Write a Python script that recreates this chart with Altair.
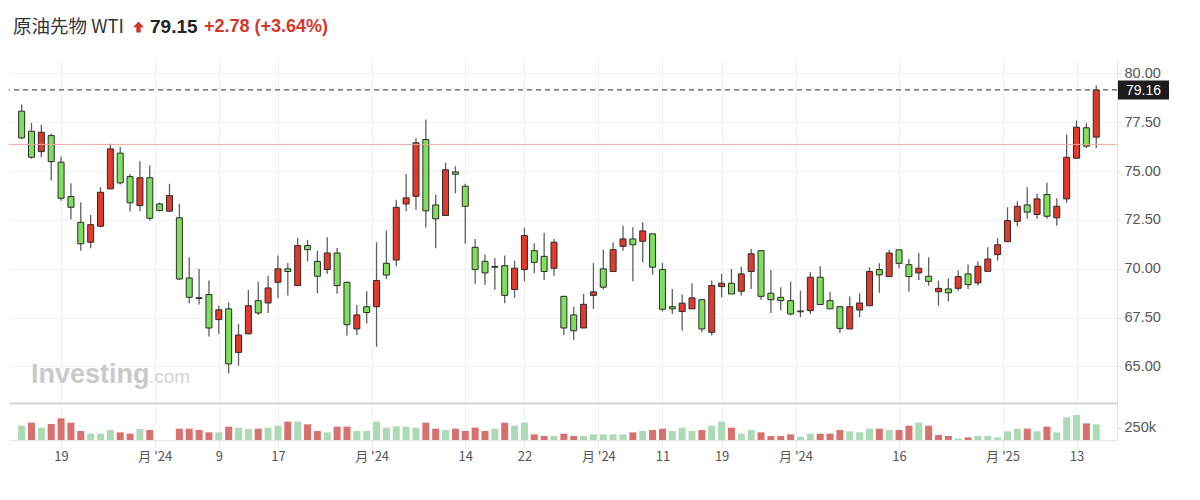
import altair as alt
import pandas as pd

# ---------------- data ----------------
opens = [78.07, 77.04, 76.00, 76.82, 75.46, 73.70, 72.38, 71.36, 72.18, 74.09,
         75.92, 74.72, 73.24, 74.66, 73.32, 72.95, 72.61, 69.53, 68.52, 68.68,
         67.40, 67.95, 65.72, 66.67, 68.37, 68.25, 69.31, 70.00, 69.14, 71.19,
         70.38, 69.96, 70.81, 69.31, 66.92, 68.06, 68.06, 70.28, 70.45, 73.32,
         73.71, 76.62, 73.27, 72.73, 74.96, 74.23, 71.10, 70.38, 70.12, 70.16,
         68.94, 69.96, 70.93, 70.64, 70.03, 68.59, 67.64, 66.97, 68.64, 70.00,
         69.86, 71.15, 71.53, 71.41, 71.79, 69.96, 68.06, 67.81, 67.95, 68.42,
         66.75, 69.09, 69.26, 68.85, 69.86, 70.93, 68.75, 68.54, 68.37, 67.84,
         67.86, 69.57, 68.37, 68.06, 66.92, 67.89, 68.11, 69.96, 69.60, 70.97,
         70.21, 69.79, 69.62, 68.83, 68.97, 69.00, 69.74, 69.28, 69.87, 70.73,
         71.39, 72.43, 73.27, 72.78, 73.80, 72.61, 73.58, 75.66, 77.22, 76.74]

closes = [76.70, 75.71, 76.99, 75.49, 73.61, 73.15, 71.28, 72.26, 73.92, 76.14,
          74.40, 73.38, 74.66, 72.59, 72.98, 73.75, 69.48, 68.54, 68.48, 66.97,
          67.90, 65.13, 66.61, 68.11, 67.74, 69.02, 70.00, 69.86, 71.19, 70.98,
          69.62, 70.81, 69.14, 67.14, 67.64, 67.76, 69.40, 69.68, 73.15, 73.63,
          76.45, 72.97, 72.56, 75.07, 74.84, 73.20, 69.96, 69.79, 70.08, 68.64,
          70.03, 71.70, 70.33, 69.86, 71.36, 66.97, 66.83, 68.18, 68.82, 69.06,
          70.98, 71.53, 71.23, 71.94, 70.08, 67.93, 67.95, 68.24, 68.51, 66.92,
          69.14, 69.26, 68.71, 69.74, 70.77, 68.59, 68.42, 68.37, 67.69, 67.80,
          69.57, 68.17, 67.95, 66.95, 68.06, 68.25, 69.86, 69.69, 70.81, 70.28,
          69.60, 70.03, 69.36, 69.00, 68.77, 69.60, 69.19, 70.13, 70.50, 71.23,
          72.47, 73.20, 72.90, 73.58, 72.69, 73.20, 75.71, 77.25, 76.28, 79.16]

highs = [78.41, 77.47, 77.37, 76.91, 75.75, 74.38, 73.41, 72.76, 74.18, 76.40,
         76.23, 74.86, 75.51, 75.29, 73.40, 74.35, 73.32, 70.59, 69.99, 69.40,
         68.11, 68.28, 67.18, 68.92, 69.34, 69.65, 70.68, 70.30, 71.58, 71.48,
         70.93, 71.61, 71.07, 69.35, 68.15, 68.85, 71.36, 71.96, 73.53, 74.86,
         76.69, 77.64, 73.80, 75.43, 75.25, 74.35, 71.53, 70.73, 70.54, 70.68,
         70.42, 72.10, 71.31, 71.84, 71.53, 68.62, 68.06, 68.71, 70.30, 70.97,
         71.36, 72.21, 72.13, 72.38, 71.80, 70.30, 68.97, 68.68, 69.26, 68.43,
         69.40, 69.74, 69.99, 70.11, 71.02, 70.94, 69.94, 69.06, 69.34, 68.88,
         69.82, 70.13, 68.83, 68.07, 68.58, 68.75, 70.08, 70.28, 70.98, 70.98,
         70.50, 70.81, 70.59, 69.40, 69.51, 69.91, 70.22, 70.38, 71.10, 71.57,
         73.15, 73.46, 74.18, 73.84, 74.40, 73.61, 76.87, 77.59, 77.47, 79.39]

lows = [76.65, 75.63, 75.71, 74.52, 73.49, 72.52, 70.93, 71.05, 72.13, 74.09,
        74.31, 72.95, 72.95, 72.47, 72.95, 72.95, 69.43, 68.24, 68.17, 66.53,
        66.67, 64.65, 65.04, 66.67, 67.64, 67.74, 68.51, 68.63, 69.14, 70.37,
        68.75, 69.74, 68.72, 66.58, 66.61, 67.21, 66.01, 69.48, 70.13, 72.95,
        73.02, 72.13, 71.05, 72.73, 73.87, 71.28, 69.23, 69.19, 68.93, 68.24,
        68.51, 69.36, 69.79, 69.43, 69.65, 66.61, 66.35, 66.97, 67.95, 68.93,
        69.86, 70.93, 69.36, 70.33, 69.70, 67.81, 67.69, 66.83, 67.95, 66.75,
        66.58, 68.54, 68.71, 68.63, 68.97, 68.42, 67.74, 67.86, 67.60, 67.52,
        67.69, 68.17, 67.95, 66.72, 66.92, 67.52, 68.11, 68.77, 69.60, 70.03,
        68.83, 69.43, 69.14, 68.11, 68.32, 68.88, 68.97, 69.14, 69.87, 70.42,
        71.39, 72.18, 72.56, 72.56, 72.56, 72.21, 73.38, 75.66, 76.19, 76.19]

# volume in thousands (None = no bar)
volumes = [291, 352, 251, 325, 440, 352, 183, 129, 129, 203,
           156, 129, 224, 203, None, None, 230, 230, 203, 156,
           156, 271, 251, 224, 230, 251, 291, 373, 373, 318,
           183, 156, 271, 271, 183, 183, 373, 251, 278, 271,
           251, 352, 230, 203, 230, 183, 251, 183, 230, 352,
           291, 352, 115, 81, 81, 129, 81, 81, 115, 115,
           115, 115, 156, 183, 203, 230, 183, 251, 183, 203,
           291, 373, 251, 129, 203, 156, 81, 81, 115, 68,
           129, 129, 129, 203, 176, 156, 230, 230, 203, 203,
           291, 352, 291, 102, 81, 34, 54, 81, 81, 54,
           176, 230, 230, 176, 271, 156, 461, 508, 339, 318]

# 1 = green volume bar, 0 = red volume bar
vol_green = [1, 0, 1, 0, 0, 0, 0, 1, 1, 1, 0, 0, 1, 0, 0, 0, 0, 0, 0, 0,
             1, 0, 1, 1, 0, 1, 1, 0, 1, 0, 0, 1, 0, 0, 1, 1, 1, 1, 1,
             1, 1, 0, 0, 1, 0, 0, 0, 0, 1, 0, 1, 1, 0, 0, 1, 0, 0, 1, 1,
             1, 1, 1, 0, 1, 0, 0, 1, 1, 1, 0, 1, 1, 0, 1, 1, 0, 0, 0, 0,
             1, 1, 0, 0, 0, 1, 1, 1, 0, 1, 0, 0, 1, 0, 0, 0, 1, 0, 1, 1,
             1, 1, 1, 0, 1, 0, 1, 1, 1, 0, 1]

tick_pos = [5, 14.5, 21, 27, 36.5, 46, 52, 59.5, 66, 72, 79.5, 90, 100.5, 108]
tick_labels = ["19", "月 '24", "9", "17", "月 '24", "14", "22", "月 '24",
               "11", "19", "月 '24", "16", "月 '25", "13"]
y_ticks = [65, 67.5, 70, 72.5, 75, 77.5, 80]
vol_ticks = [250]

last_price = 79.16
prev_close = 76.37
title_name = "原油先物 WTI"
title_price = "79.15"
title_change = "+2.78 (+3.64%)"

# ---------------- tables ----------------
n = len(opens)
df = pd.DataFrame({
    "idx": list(range(1, n + 1)),
    "open": opens, "close": closes, "high": highs, "low": lows,
})
df["dir"] = ["up" if c >= o else "down" for o, c in zip(opens, closes)]

vdf = pd.DataFrame({
    "idx": list(range(1, n + 1)),
    "vol": volumes,
    "vc": ["g" if g else "r" for g in vol_green],
}).dropna()

W = 1108
H_PRICE = 343
H_VOL = 37
FONT = "Noto Sans CJK JP"
NUMFONT = "Liberation Sans"

xscale = alt.Scale(domain=[0.226, 111.6], nice=False, zero=False)
yscale = alt.Scale(domain=[63.13, 80.69], nice=False, zero=False)
vscale = alt.Scale(domain=[0, 752], nice=False, zero=True)

label_expr = '""'
for p, l in reversed(list(zip(tick_pos, tick_labels))):
    label_expr = f'datum.value == {p} ? "{l}" : ({label_expr})'

x_axis_price = alt.Axis(values=tick_pos, labels=False, ticks=False, grid=True,
                        gridColor="#f1f1f1", domain=True, domainColor="#d4d4d4",
                        domainWidth=2, title=None)
y_axis_price = alt.Axis(orient="right", values=y_ticks, format=".2f", grid=True,
                        gridColor="#f2f2f2", domain=True, domainColor="#e3e3e3",
                        ticks=True, tickColor="#e3e3e3", tickSize=4,
                        labelFontSize=14.5, labelColor="#555555", labelFont=NUMFONT,
                        labelPadding=3, title=None)


def PX():
    return alt.X("idx:Q", scale=xscale, axis=x_axis_price)


def PY(field):
    return alt.Y(field, scale=yscale, axis=y_axis_price)


up_red = "#e2392b"
down_green = "#7ddf5c"

watermark = alt.Chart(pd.DataFrame({"t": ["Investing"]})).mark_text(
    font="Liberation Sans", fontSize=27, fontWeight="bold", color="#c9c9c9",
    align="left", baseline="alphabetic"
).encode(text="t:N", x=alt.value(22), y=alt.value(323))
watermark2 = alt.Chart(pd.DataFrame({"t": [".com"]})).mark_text(
    font="Liberation Sans", fontSize=19, color="#d3d3d3",
    align="left", baseline="alphabetic"
).encode(text="t:N", x=alt.value(140), y=alt.value(323))

wicks = alt.Chart(df).mark_rule(color="#5f5f5f", strokeWidth=1.3).encode(
    x=PX(), y=PY("low:Q"), y2="high:Q",
)

bodies = alt.Chart(df).mark_bar(size=6, stroke="#2b2b2b", strokeWidth=1).encode(
    x=PX(), y=PY("open:Q"), y2="close:Q",
    color=alt.Color("dir:N", scale=alt.Scale(domain=["up", "down"],
                                             range=[up_red, down_green]),
                    legend=None),
)

ref_df = pd.DataFrame({"price": [prev_close]})
prev_rule = alt.Chart(ref_df).mark_rule(color="#f5a59f", strokeWidth=1).encode(
    y=PY("price:Q"))

last_df = pd.DataFrame({"price": [last_price], "lbl": [f"{last_price:.2f}"]})
last_rule = alt.Chart(last_df).mark_rule(color="#555555", strokeWidth=1.2,
                                         strokeDash=[5, 4]).encode(
    y=PY("price:Q"))
last_box = alt.Chart(last_df).mark_rule(color="#1c1c1c", strokeWidth=19,
                                        strokeCap="butt").encode(
    x=alt.value(W + 1), x2=alt.value(W + 52), y=PY("price:Q"))
last_text = alt.Chart(last_df).mark_text(color="#ffffff", fontSize=14, font=NUMFONT,
                                         align="center", baseline="middle",
                                         dy=1).encode(
    x=alt.value(W + 26.5), y=PY("price:Q"), text="lbl:N")

TY = -33
t1 = alt.Chart(pd.DataFrame({"t": [title_name]})).mark_text(
    font=FONT, fontSize=18.5, color="#333333", align="left", baseline="middle"
).encode(text="t:N", x=alt.value(4), y=alt.value(TY))
arrow = alt.Chart(pd.DataFrame({"t": ["a"]})).mark_point(
    shape="M0,-1L1,0.05L0.4,0.05L0.4,1L-0.4,1L-0.4,0.05L-1,0.05Z",
    size=121, filled=True, color="#d0342c", opacity=1
).encode(x=alt.value(129.5), y=alt.value(TY))
t2 = alt.Chart(pd.DataFrame({"t": [title_price]})).mark_text(
    font=NUMFONT, fontSize=19, fontWeight="bold", color="#222222",
    align="left", baseline="middle"
).encode(text="t:N", x=alt.value(141), y=alt.value(TY))
t3 = alt.Chart(pd.DataFrame({"t": [title_change]})).mark_text(
    font=NUMFONT, fontSize=18, fontWeight="bold", color="#cf3a2d",
    align="left", baseline="middle"
).encode(text="t:N", x=alt.value(195), y=alt.value(TY))

price = alt.layer(
    watermark, watermark2, wicks, bodies, prev_rule, last_rule, last_box,
    last_text, t1, arrow, t2, t3
).properties(width=W, height=H_PRICE)

x_axis_vol = alt.Axis(values=tick_pos, labelExpr=label_expr, grid=True,
                      gridColor="#f1f1f1", ticks=True, tickSize=6,
                      tickColor="#e6e6e6", domain=True, domainColor="#e6e6e6",
                      labelFontSize=13, labelColor="#555555", labelFont=FONT,
                      labelPadding=4, labelFlush=False, labelOverlap=False,
                      title=None)
y_axis_vol = alt.Axis(orient="right", values=vol_ticks,
                      labelExpr="datum.value + 'k'", grid=False, domain=True,
                      domainColor="#e3e3e3", ticks=True, tickColor="#cccccc",
                      tickSize=4, labelFontSize=14.5, labelColor="#555555",
                      labelFont=NUMFONT, labelPadding=3, title=None)

vol = alt.Chart(vdf).mark_bar(size=7).encode(
    x=alt.X("idx:Q", scale=xscale, axis=x_axis_vol),
    y=alt.Y("vol:Q", scale=vscale, axis=y_axis_vol),
    color=alt.Color("vc:N", scale=alt.Scale(domain=["g", "r"],
                                            range=["#acdab4", "#d7716d"]),
                    legend=None),
).properties(width=W, height=H_VOL)

chart = alt.vconcat(price, vol, spacing=0).resolve_scale(
    x="independent", y="independent", color="independent"
).properties(
    padding={"left": 0, "top": 10, "right": 0, "bottom": 0},
    background="#ffffff",
).configure_view(strokeWidth=0)

chart.save("out.html", embed_options={"renderer": "svg", "actions": False})
